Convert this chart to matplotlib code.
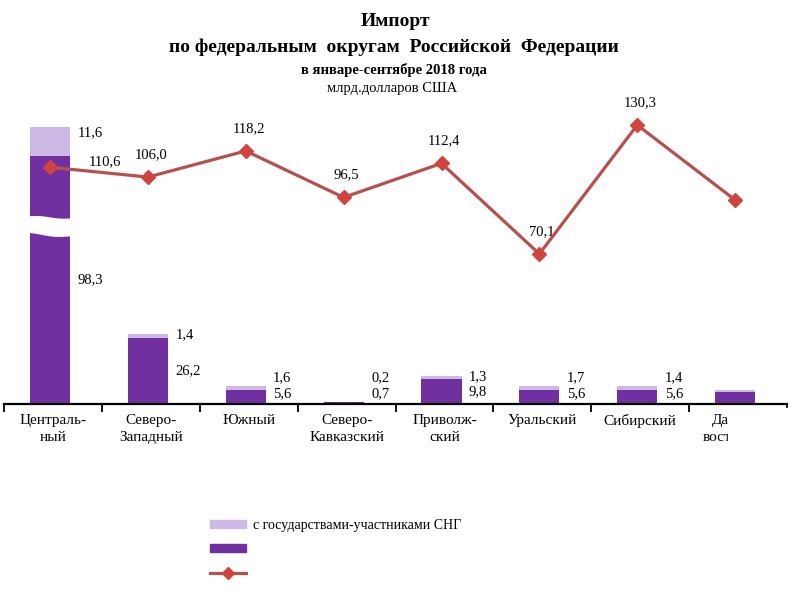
import numpy as np
import matplotlib
matplotlib.use("Agg")
from matplotlib import pyplot as plt
from matplotlib.patches import Patch, Polygon, Rectangle
from matplotlib.lines import Line2D

plt.rcParams['font.family'] = ['Liberation Serif', 'DejaVu Serif']

CATEGORIES = ["Централь-\nный", "Северо-\nЗападный", "Южный", "Северо-\nКавказский",
              "Приволж-\nский", "Уральский", "Сибирский", "Дальне-\nвосточный"]
# far abroad (dark) and CIS (light), bln USD
FAR_ABROAD = [98.3, 26.2, 5.6, 0.7, 9.8, 5.6, 5.6, 4.9]
CIS = [11.6, 1.4, 1.6, 0.2, 1.3, 1.7, 1.4, 0.8]
# percent to previous year
PERCENT = [110.6, 106.0, 118.2, 96.5, 112.4, 70.1, 130.3, 95.3]
N_LABELLED = 7  # last district's labels are cut off in the source

DARK = '#7030A0'
LIGHT = '#CDB8E6'
LINE = '#B5504E'
MARK = '#D0443F'


def fmt(v):
    return f'{v:.1f}'.replace('.', ',')


fig = plt.figure(figsize=(8, 6), dpi=100)
ax = fig.add_axes([4 / 800, 1 - 404 / 600, 783 / 800, 304 / 600])
ax2 = ax.twinx()

x = np.arange(len(CATEGORIES)) - 0.03
ax.bar(x, FAR_ABROAD, width=0.41, color=DARK, zorder=2)
ax.bar(x, CIS, width=0.41, bottom=FAR_ABROAD, color=LIGHT, zorder=2)

# wavy white break on the first bar
xs = np.linspace(x[0] - 0.25, x[0] + 0.25, 30)
t = (xs - xs[0]) / (xs[-1] - xs[0])
top = 74.3 - 0.5 * t + 0.4 * np.sin(t * 2 * np.pi)
bot = 67.5 - 1.3 * t + 0.4 * np.sin(t * 2 * np.pi + 1)
band = np.column_stack([np.r_[xs, xs[::-1]], np.r_[top, bot[::-1]]])
ax.add_patch(Polygon(band, closed=True, color='white', zorder=3, lw=0))

for i in range(N_LABELLED):
    d, c = FAR_ABROAD[i], CIS[i]
    ax.text(x[i] + 0.28, max(d + 0.8 * c, 10.3), fmt(c), ha='left', va='center',
            fontsize=10.5, zorder=4)
    ax.text(x[i] + 0.28, max(d / 2, 4.2), fmt(d), ha='left', va='center',
            fontsize=10.5, zorder=4)

ax.set_xlim(-0.5, len(CATEGORIES) - 0.5)
ax.set_ylim(0, 120.6)
ax2.set_ylim(0, 142)

ax2.plot(x, PERCENT, color=LINE, lw=2.3, marker='D', markersize=7,
         markerfacecolor=MARK, markeredgecolor=MARK, zorder=5)
for i in range(N_LABELLED):
    if i == 0:
        ax2.annotate(fmt(PERCENT[i]), (x[i], PERCENT[i]), xytext=(28, 4),
                     textcoords='offset points', ha='left', va='center', fontsize=10.5)
    else:
        ax2.annotate(fmt(PERCENT[i]), (x[i], PERCENT[i]), xytext=(2, 16),
                     textcoords='offset points', ha='center', va='center', fontsize=10.5)

for a in (ax, ax2):
    for s in ('left', 'right', 'top'):
        a.spines[s].set_visible(False)
    a.set_yticks([])
ax2.spines['bottom'].set_visible(False)
ax.spines['bottom'].set_linewidth(1.6)

ax.set_xticks(np.arange(len(CATEGORIES)))
ax.set_xticklabels(CATEGORIES, fontsize=11, linespacing=1.45)
ax.tick_params(axis='x', which='major', length=0, pad=7)
ax.set_xticks(np.arange(len(CATEGORIES) + 1) - 0.5, minor=True)
ax.tick_params(axis='x', which='minor', length=6, width=1.3, direction='out')

# last district label is clipped in the original
fig.add_artist(Rectangle((728 / 800, 1 - 452 / 600), 72 / 800, 44 / 600,
                         transform=fig.transFigure, color='white', zorder=10))

fig.text(0.494, 1 - 21 / 600, 'Импорт', ha='center', va='center',
         fontsize=14, fontweight='bold')
fig.text(0.492, 1 - 47 / 600, 'по федеральным  округам  Российской  Федерации',
         ha='center', va='center', fontsize=14, fontweight='bold')
fig.text(0.493, 1 - 70 / 600, 'в январе-сентябре 2018 года', ha='center',
         va='center', fontsize=10.5, fontweight='bold')
fig.text(0.490, 1 - 88 / 600, 'млрд.долларов США', ha='center', va='center',
         fontsize=10.5)

handles = [Patch(color=LIGHT), Patch(color=DARK),
           Line2D([], [], color=LINE, lw=2.3, marker='D', markersize=6,
                  markerfacecolor=MARK, markeredgecolor=MARK)]
labels = ['с государствами-участниками СНГ', ' ', ' ']
fig.legend(handles, labels, loc='upper left', bbox_to_anchor=(203 / 800, 1 - 512 / 600),
           frameon=False, fontsize=10, handlelength=2.6, handleheight=0.5,
           handletextpad=0.5, labelspacing=0.8, borderpad=0)

fig.savefig('out.png', dpi=100)
